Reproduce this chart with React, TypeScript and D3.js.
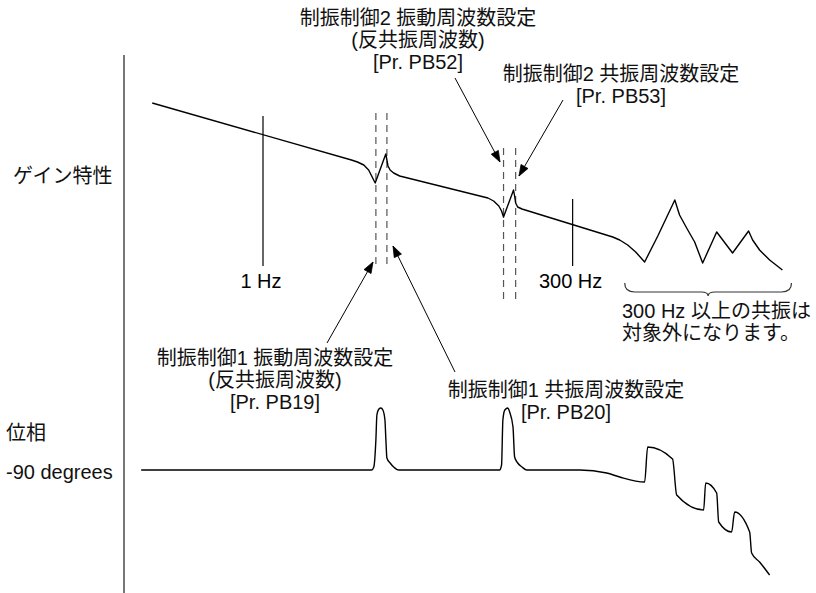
import React from "react";
import * as d3 from "d3";

// gain curve: frequency (Hz) / gain (dB)
const gainHz = [0.13, 5.1, 5.7, 6.4, 7.0, 7.4, 7.9, 9.6, 9.8, 10, 10.4, 11.1, 12.4, 63, 70, 77, 81, 84, 101, 103, 105, 109, 118, 628, 714, 827, 958, 1130, 1440, 1970, 2150, 2450, 2840, 3290, 4260, 5710, 7670, 8260, 9390, 11300, 14300];
const gainDb = [31, -26, -28, -31, -36, -42, -49, -20, -26, -32, -36, -39, -42, -64, -67, -72, -77, -83, -56, -62, -69, -73, -75, -103, -106, -111, -118, -128, -102, -66, -81, -94, -108, -129, -98, -119, -97, -106, -116, -126, -136];

// phase curve: frequency (Hz) / phase (deg)
const phaseHz = [0.106, 7.4, 7.7, 8.0, 8.15, 8.46, 8.77, 9.1, 9.45, 9.62, 9.8, 10.4, 11.1, 12.2, 78, 81, 83, 86, 91, 94, 100, 103, 109, 118, 129, 342, 562, 714, 1130, 1195, 1890, 2040, 3350, 3480, 4260, 4420, 5610, 5930, 7820, 8110, 9390, 11300];
const phaseDeg = [-90, -90, -87, -60, -35, -29, -28, -30, -40, -60, -78, -83, -87, -90, -90, -85, -40, -30, -28, -32, -47, -77, -83, -87, -90, -90, -93, -97, -102, -67, -79, -115, -130, -103, -113, -142, -152, -132, -152, -173, -182, -195];

// notch filter settings
const antiResHz = [8.0, 84];
const resHz = [9.8, 105];
const tickHz = [1, 300];
const tickLabels = ["1 Hz", "300 Hz"];
const outOfRangeHz = [783, 16900];

const W = 816;
const H = 593;
const FONT = '"Liberation Sans", "Noto Sans CJK JP", sans-serif';
const FS = 20;

const tickTop = [116, 199];
const tickBottom = 266;
const dashTop = [113, 148];
const dashBottom = [265, 302];

const arrows = [
  { x1: 455, y1: 78, x2: 500, y2: 162 },
  { x1: 563, y1: 100, x2: 519, y2: 176 },
  { x1: 327, y1: 343, x2: 373, y2: 262 },
  { x1: 455, y1: 372, x2: 393, y2: 246 },
];

const labels = [
  { x: 418, y: 18, anchor: "middle", t: "制振制御2 振動周波数設定" },
  { x: 418, y: 40, anchor: "middle", t: "(反共振周波数)" },
  { x: 418, y: 62, anchor: "middle", t: "[Pr. PB52]" },
  { x: 621, y: 74, anchor: "middle", t: "制振制御2 共振周波数設定" },
  { x: 621, y: 96, anchor: "middle", t: "[Pr. PB53]" },
  { x: 275, y: 358, anchor: "middle", t: "制振制御1 振動周波数設定" },
  { x: 275, y: 380, anchor: "middle", t: "(反共振周波数)" },
  { x: 275, y: 402, anchor: "middle", t: "[Pr. PB19]" },
  { x: 566, y: 390, anchor: "middle", t: "制振制御1 共振周波数設定" },
  { x: 566, y: 412, anchor: "middle", t: "[Pr. PB20]" },
  { x: 622, y: 311, anchor: "start", t: "300 Hz 以上の共振は" },
  { x: 622, y: 333, anchor: "start", t: "対象外になります。" },
  { x: 13, y: 176, anchor: "start", t: "ゲイン特性" },
  { x: 6, y: 433, anchor: "start", t: "位相" },
  { x: 6, y: 472, anchor: "start", t: "-90 degrees" },
];

function arrowHead(a: { x1: number; y1: number; x2: number; y2: number }) {
  const ang = Math.atan2(a.y2 - a.y1, a.x2 - a.x1);
  const len = 11, hw = 4;
  const bx = a.x2 - len * Math.cos(ang), by = a.y2 - len * Math.sin(ang);
  const px = -Math.sin(ang) * hw, py = Math.cos(ang) * hw;
  return `${a.x2},${a.y2} ${bx + px},${by + py} ${bx - px},${by - py}`;
}

export default function App() {
  const x = d3.scaleLog().domain([0.1, 10000]).range([138, 763]);
  const yGain = d3.scaleLinear().domain([40, -140]).range([94, 274]);
  const yPhase = d3.scaleLinear().domain([0, -200]).range([380, 580]);

  const gainLine = d3.line<number>()
    .x((d, i) => x(gainHz[i]))
    .y((d) => yGain(d));
  const phaseLine = d3.line<number>()
    .x((d, i) => x(phaseHz[i]))
    .y((d) => yPhase(d))
    .curve(d3.curveMonotoneX);

  // brace under the high-frequency resonances
  const bx0 = x(outOfRangeHz[0]), bx1 = x(outOfRangeHz[1]);
  const bm = (bx0 + bx1) / 2;
  const by = 283, bh = 9;
  const brace = d3.path();
  brace.moveTo(bx0, by);
  brace.quadraticCurveTo(bx0, by + bh, bx0 + 10, by + bh);
  brace.lineTo(bm - 7, by + bh);
  brace.quadraticCurveTo(bm, by + bh, bm, by + bh + 4);
  brace.quadraticCurveTo(bm, by + bh, bm + 7, by + bh);
  brace.lineTo(bx1 - 10, by + bh);
  brace.quadraticCurveTo(bx1, by + bh, bx1, by);

  const dashX = [antiResHz, resHz];

  return (
    <svg width={W} height={H} style={{ position: "absolute", left: 0, top: 0, background: "#fff" }}
      fontFamily={FONT} fontSize={FS}>
      <line x1={124} x2={124} y1={55} y2={H} stroke="#555" strokeWidth={1.6} />

      {tickHz.map((f, i) => (
        <g key={"t" + i}>
          <line x1={x(f)} x2={x(f)} y1={tickTop[i]} y2={tickBottom} stroke="#000" strokeWidth={1.2} />
          <text x={x(f) - 2} y={281} textAnchor="middle" dominantBaseline="central">{tickLabels[i]}</text>
        </g>
      ))}

      {antiResHz.map((_, i) => (
        <g key={"d" + i}>
          {dashX.map((arr, j) => (
            <line key={j} x1={x(arr[i])} x2={x(arr[i])} y1={dashTop[i]} y2={dashBottom[i]}
              stroke="#555" strokeWidth={1.2} strokeDasharray="7 5" />
          ))}
        </g>
      ))}

      <path d={gainLine(gainDb) || ""} fill="none" stroke="#000" strokeWidth={1.4} strokeLinejoin="round" />
      <path d={phaseLine(phaseDeg) || ""} fill="none" stroke="#000" strokeWidth={1.4} strokeLinejoin="round" />

      <path d={brace.toString()} fill="none" stroke="#333" strokeWidth={1.2} />

      {arrows.map((a, i) => (
        <g key={"a" + i}>
          <line x1={a.x1} y1={a.y1} x2={a.x2} y2={a.y2} stroke="#000" strokeWidth={1} />
          <polygon points={arrowHead(a)} fill="#000" stroke="#000" strokeWidth={0.8} />
        </g>
      ))}

      {labels.map((l, i) => (
        <text key={"l" + i} x={l.x} y={l.y} textAnchor={l.anchor as any} dominantBaseline="central" fill="#111">{l.t}</text>
      ))}
    </svg>
  );
}
